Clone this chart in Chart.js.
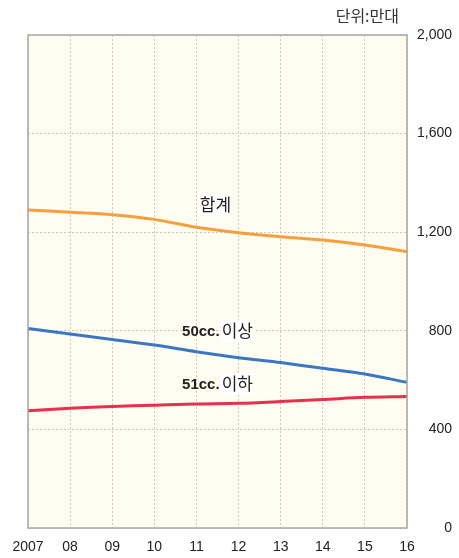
<!DOCTYPE html>
<html>
<head>
<meta charset="utf-8">
<script src="https://cdn.jsdelivr.net/npm/chart.js@4/dist/chart.umd.min.js"></script>
<style>
  html, body { margin: 0; padding: 0; background: #fff; }
  #wrap { position: relative; width: 459px; height: 558px; }
</style>
</head>
<body>
<div id="wrap"><canvas id="chart" width="459" height="558"></canvas></div>
<script>
const years = ["2007", "08", "09", "10", "11", "12", "13", "14", "15", "16"];
const totalValues = [1290, 1281, 1271, 1252, 1220, 1198, 1182, 1168, 1148, 1121];
const over50Values = [809, 787, 765, 742, 715, 691, 671, 648, 625, 591];
const under51Values = [476, 486, 493, 498, 503, 506, 513, 521, 530, 533];
const yTicks = [0, 400, 800, 1200, 1600, 2000];

// line labels: [bold part, normal part, x index, y value]
const lineLabels = [
  ["", "합계", 4.45, 1314],
  ["50cc.", "이상", 4.5, 800],
  ["51cc.", "이하", 4.5, 585],
];

const latin = "'Liberation Sans', Arial, sans-serif";
const korean = "'Noto Sans CJK KR', 'Liberation Sans', sans-serif";

const areaPlugin = {
  id: "area",
  beforeDraw(chart) {
    const { ctx, chartArea: a } = chart;
    ctx.save();
    ctx.fillStyle = "#fffdf1";
    ctx.fillRect(a.left, a.top, a.right - a.left, a.bottom - a.top);
    ctx.restore();
  },
  afterDatasetsDraw(chart) {
    const { ctx, chartArea: a, scales } = chart;
    ctx.save();
    ctx.strokeStyle = "#a8a8a0";
    ctx.lineWidth = 1.5;
    ctx.strokeRect(a.left, a.top, a.right - a.left, a.bottom - a.top);

    // unit
    ctx.fillStyle = "#333";
    ctx.font = "16px " + korean;
    ctx.textAlign = "right";
    ctx.textBaseline = "middle";
    ctx.fillText("단위:만대", 399, 16);

    lineLabels.forEach(([b, t, xi, yv]) => {
      const cx = scales.x.getPixelForValue(xi);
      const cy = scales.y.getPixelForValue(yv);
      ctx.font = "bold 15px " + latin;
      const wb = b ? ctx.measureText(b).width + 2 : 0;
      ctx.font = "17px " + korean;
      const wt = ctx.measureText(t).width;
      const w = wb + wt;
      const x0 = cx - w / 2;
      ctx.fillStyle = "#fff";
      ctx.fillRect(x0 + wb - 1, cy - 11, wt + 2, 22);
      ctx.fillStyle = "#222";
      ctx.textAlign = "left";
      ctx.textBaseline = "middle";
      if (b) {
        ctx.font = "bold 15px " + latin;
        ctx.fillText(b, x0, cy + 1);
      }
      ctx.font = "17px " + korean;
      ctx.fillText(t, x0 + wb, cy);
    });
    ctx.restore();
  },
};

const ds = (data, color) => ({
  data,
  borderColor: color,
  borderWidth: 3,
  pointRadius: 0,
  tension: 0.3,
  fill: false,
});

new Chart(document.getElementById("chart"), {
  type: "line",
  data: {
    labels: years,
    datasets: [
      ds(totalValues, "#f5a03c"),
      ds(over50Values, "#3a78c2"),
      ds(under51Values, "#e6304c"),
    ],
  },
  options: {
    responsive: false,
    animation: false,
    layout: { padding: { top: 35, left: 28, right: 7, bottom: 0 } },
    plugins: { legend: { display: false }, tooltip: { enabled: false } },
    scales: {
      x: {
        offset: false,
        grid: { color: "#c8c8c0", lineWidth: 1, drawTicks: false },
        border: { display: false, dash: [2, 2] },
        ticks: {
          color: "#222",
          font: { family: latin, size: 14 },
          padding: 11,
          maxRotation: 0,
          autoSkip: false,
        },
        afterFit(s) { s.height = 30; },
      },
      y: {
        position: "right",
        min: 0,
        max: 2000,
        afterBuildTicks(s) { s.ticks = yTicks.map(v => ({ value: v })); },
        grid: { color: "#c8c8c0", lineWidth: 1, drawTicks: false },
        border: { display: false, dash: [2, 2] },
        ticks: {
          color: "#222",
          font: { family: latin, size: 14 },
          crossAlign: "far",
          padding: 0,
          callback: v => v.toLocaleString("en-US"),
        },
        afterFit(s) { s.width = 45; },
      },
    },
  },
  plugins: [areaPlugin],
});
</script>
</body>
</html>
